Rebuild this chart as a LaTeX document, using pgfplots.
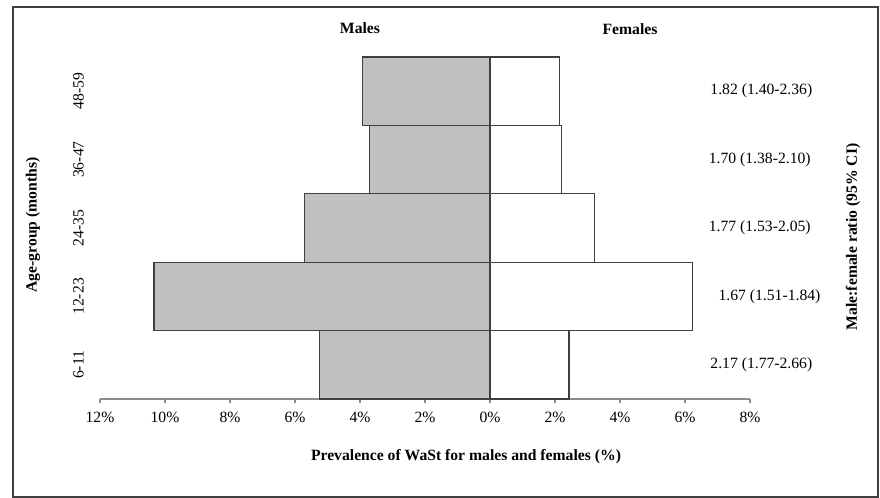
\documentclass[border=0pt]{standalone}
\usepackage{fontspec}
\setmainfont{Liberation Serif}
\usepackage{pgfplots}
\pgfplotsset{compat=1.18}
\definecolor{barfill}{RGB}{192,192,192}
\definecolor{edge}{RGB}{64,64,64}
\definecolor{axgray}{RGB}{140,140,140}
% 1 px of the reference = 0.75pt; axis origin at px (100,399)
\begin{document}
\begin{tikzpicture}[x=1pt,y=1pt]
\useasboundingbox (-75,-74.25) rectangle (585,299.25);
\draw[edge, line width=0.9pt] (-65.25,-73.5) rectangle (583.5,294);
\begin{axis}[
  scale only axis,
  width=487.5pt, height=256.5pt,
  xmin=-12, xmax=8, ymin=-0.5, ymax=4.5,
  clip=false,
  axis x line*=bottom,
  axis y line*=left,
  y axis line style={draw=none},
  x axis line style={axgray, line width=0.8pt, -},
  xtick={-12,-10,...,8},
  xticklabels={12\%,10\%,8\%,6\%,4\%,2\%,0\%,2\%,4\%,6\%,8\%},
  xtick style={axgray, line width=0.8pt},
  tick align=outside,
  major tick length=3pt,
  ytick={0,1,2,3,4},
  yticklabels={6-11,12-23,24-35,36-47,48-59},
  ytick style={draw=none},
  yticklabel style={rotate=90, anchor=south, inner sep=0pt},
  yticklabel shift=9pt,
  xticklabel shift=3pt,
  tick label style={font=\fontsize{11.75}{13}\selectfont},
  xbar, bar width=1, bar shift=0pt,
]
\addplot[draw=edge, fill=barfill, line width=0.9pt] coordinates {
  (-5.25,0) (-10.34,1) (-5.72,2) (-3.71,3) (-3.92,4)
};
\addplot[draw=edge, fill=white, line width=0.9pt] coordinates {
  (2.43,0) (6.22,1) (3.21,2) (2.20,3) (2.15,4)
};
\draw[edge, line width=0.9pt] (axis cs:0,-0.5) -- (axis cs:0,4.5);
\begin{scope}[font=\fontsize{11.75}{13}\selectfont]
\node at (axis cs:8.35,0) {2.17 (1.77-2.66)};
\node at (axis cs:8.60,1) {1.67 (1.51-1.84)};
\node at (axis cs:8.30,2) {1.77 (1.53-2.05)};
\node at (axis cs:8.30,3) {1.70 (1.38-2.10)};
\node at (axis cs:8.35,4) {1.82 (1.40-2.36)};
\end{scope}
\end{axis}
\begin{scope}[font=\bfseries\fontsize{11.75}{13}\selectfont]
\node at (195,278.25) {Males};
\node at (397.5,277.5) {Females};
\node at (274.5,-43.5) {Prevalence of WaSt for males and females (\%)};
\node[rotate=90] at (-50.25,130.5) {Age-group (months)};
\node[rotate=90] at (564.75,121.5) {Male:female ratio (95\% CI)};
\end{scope}
\end{tikzpicture}
\end{document}
